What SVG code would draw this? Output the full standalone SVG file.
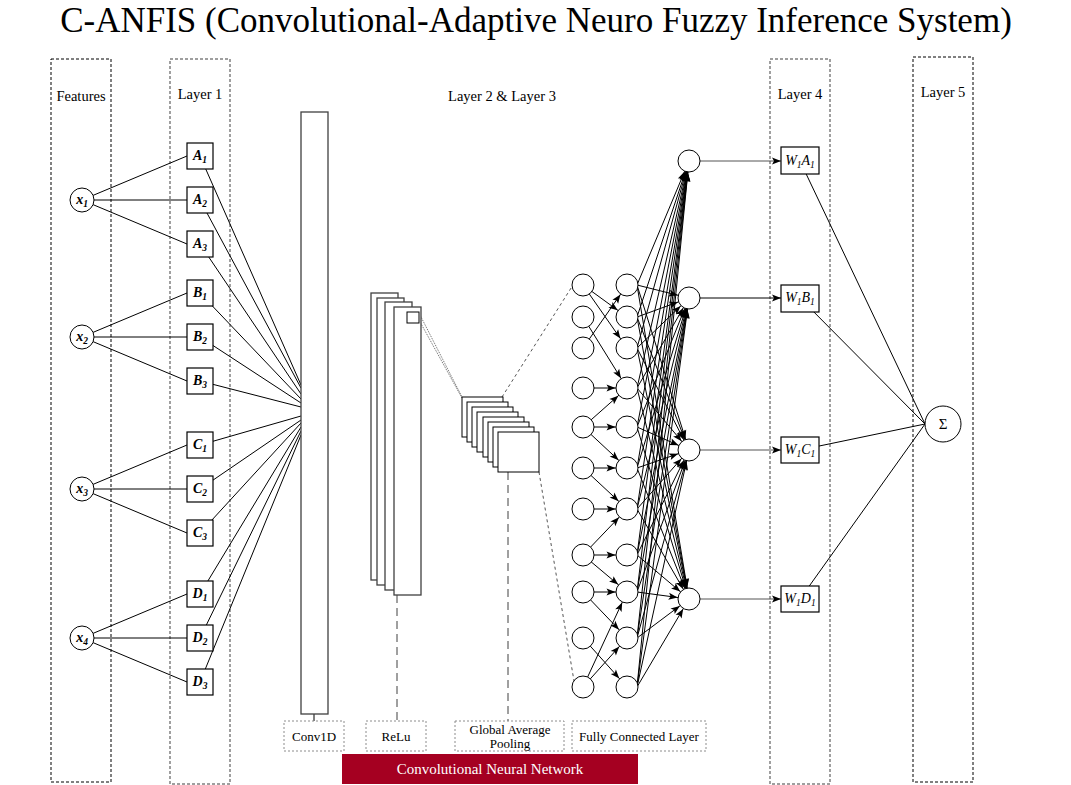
<svg xmlns="http://www.w3.org/2000/svg" width="1071" height="785" viewBox="0 0 1071 785">
<style>
text{font-family:"Liberation Serif","Times New Roman",serif;fill:#000}
.title{font-size:35px;text-anchor:middle}
.hdr{font-size:14.5px;text-anchor:middle}
.lbl{font-size:13px;text-anchor:middle}
.fz{font-size:14px;font-style:italic;font-weight:bold;text-anchor:middle}
.w{font-size:14px;font-style:italic;text-anchor:middle}
.sub{font-size:9.5px}
.lk{fill:none;stroke:#000;stroke-width:1;stroke-dasharray:3 2}
.lg{fill:none;stroke:#808080;stroke-width:1.5;stroke-dasharray:3 2}
.box{fill:#fff;stroke:#000;stroke-width:1.2}
.circ{fill:#fff;stroke:#000;stroke-width:1}
.tag{fill:#fff;stroke:#8c8c8c;stroke-width:1;stroke-dasharray:2 2}
.bar{fill:#fff;stroke:#404040;stroke-width:1.3}
.cn line{stroke:#000;stroke-width:1}
.ar{marker-end:url(#ac)}
</style>
<defs>
<marker id="ac" markerUnits="userSpaceOnUse" markerWidth="30" markerHeight="10" refX="20.5" refY="3.5" orient="auto" overflow="visible"><path d="M0,0 L9,3.5 L0,7 L2,3.5 z" fill="#000"/></marker>
<marker id="a" markerUnits="userSpaceOnUse" markerWidth="10" markerHeight="8" refX="9" refY="3.5" orient="auto" overflow="visible"><path d="M0,0 L9,3.5 L0,7 L2,3.5 z" fill="#000"/></marker>
</defs>
<rect width="1071" height="785" fill="#fff"/>
<text class="title" x="536" y="32">C-ANFIS (Convolutional-Adaptive Neuro Fuzzy Inference System)</text>

<g id="layer-frames">
<g id="frame-features"><rect class="lk" x="51" y="59" width="60" height="723"/><text class="hdr" x="81" y="101">Features</text></g>
<g id="frame-layer1"><rect class="lg" x="170" y="59" width="60" height="725"/><text class="hdr" x="200" y="99">Layer 1</text></g>
<g id="frame-layer23"><text class="hdr" x="502" y="101">Layer 2 &amp; Layer 3</text></g>
<g id="frame-layer4"><rect class="lg" x="770" y="59" width="60" height="725"/><text class="hdr" x="800" y="99">Layer 4</text></g>
<g id="frame-layer5"><rect class="lk" x="913" y="57" width="60" height="725"/><text class="hdr" x="943" y="97">Layer 5</text></g>
</g>

<g id="connectors" class="cn">
<line x1="82" y1="200" x2="187" y2="156"/><line x1="82" y1="200" x2="187" y2="200"/><line x1="82" y1="200" x2="187" y2="244"/>
<line x1="82" y1="337" x2="187" y2="293"/><line x1="82" y1="337" x2="187" y2="337"/><line x1="82" y1="337" x2="187" y2="381"/>
<line x1="82" y1="489" x2="187" y2="445"/><line x1="82" y1="489" x2="187" y2="489"/><line x1="82" y1="489" x2="187" y2="533"/>
<line x1="82" y1="638" x2="187" y2="594"/><line x1="82" y1="638" x2="187" y2="638"/><line x1="82" y1="638" x2="187" y2="682"/>
<line x1="200" y1="156" x2="301" y2="385"/><line x1="200" y1="200" x2="301" y2="388"/><line x1="200" y1="244" x2="301" y2="394"/>
<line x1="200" y1="293" x2="301" y2="399"/><line x1="200" y1="337" x2="301" y2="403"/><line x1="200" y1="381" x2="301" y2="407"/>
<line x1="200" y1="445" x2="301" y2="416"/><line x1="200" y1="489" x2="301" y2="420"/><line x1="200" y1="533" x2="301" y2="423"/>
<line x1="200" y1="594" x2="301" y2="427"/><line x1="200" y1="638" x2="301" y2="431"/><line x1="200" y1="682" x2="301" y2="435"/>
<line x1="314" y1="714" x2="314" y2="721"/>
<line x1="397" y1="595" x2="397" y2="721" style="stroke:#404040;stroke-dasharray:8 5"/>
<line x1="508" y1="472" x2="508" y2="721" style="stroke:#404040;stroke-dasharray:8 5"/>
<line x1="419" y1="313" x2="462" y2="397" style="stroke:#666;stroke-dasharray:1 1"/>
<line x1="419" y1="320" x2="462" y2="398" style="stroke:#666;stroke-dasharray:1 1"/>
<line x1="502" y1="397" x2="573" y2="285" style="stroke:#555;stroke-dasharray:3 3"/>
<line x1="539" y1="472" x2="574" y2="681" style="stroke:#555;stroke-dasharray:3 3"/>
<line class="ar" x1="583" y1="285" x2="627" y2="317"/>
<line class="ar" x1="583" y1="285" x2="627" y2="348"/>
<line class="ar" x1="583" y1="348" x2="627" y2="285"/>
<line class="ar" x1="583" y1="317" x2="627" y2="388"/>
<line class="ar" x1="583" y1="388" x2="627" y2="388"/>
<line class="ar" x1="583" y1="427" x2="627" y2="388"/>
<line class="ar" x1="583" y1="427" x2="627" y2="427"/>
<line class="ar" x1="583" y1="427" x2="627" y2="468"/>
<line class="ar" x1="583" y1="468" x2="627" y2="468"/>
<line class="ar" x1="583" y1="468" x2="627" y2="509"/>
<line class="ar" x1="583" y1="509" x2="627" y2="509"/>
<line class="ar" x1="583" y1="555" x2="627" y2="509"/>
<line class="ar" x1="583" y1="555" x2="627" y2="555"/>
<line class="ar" x1="583" y1="555" x2="627" y2="592"/>
<line class="ar" x1="583" y1="592" x2="627" y2="592"/>
<line class="ar" x1="583" y1="592" x2="627" y2="638"/>
<line class="ar" x1="583" y1="687" x2="627" y2="592"/>
<line class="ar" x1="583" y1="687" x2="627" y2="638"/>
<line class="ar" x1="583" y1="638" x2="627" y2="687"/>
<line class="ar" x1="637" y1="285" x2="689" y2="161"/><line class="ar" x1="637" y1="285" x2="689" y2="298"/><line class="ar" x1="637" y1="285" x2="689" y2="450"/><line class="ar" x1="637" y1="285" x2="689" y2="599"/>
<line class="ar" x1="637" y1="317" x2="689" y2="161"/><line class="ar" x1="637" y1="317" x2="689" y2="298"/><line class="ar" x1="637" y1="317" x2="689" y2="450"/><line class="ar" x1="637" y1="317" x2="689" y2="599"/>
<line class="ar" x1="637" y1="348" x2="689" y2="161"/><line class="ar" x1="637" y1="348" x2="689" y2="298"/><line class="ar" x1="637" y1="348" x2="689" y2="450"/><line class="ar" x1="637" y1="348" x2="689" y2="599"/>
<line class="ar" x1="637" y1="388" x2="689" y2="161"/><line class="ar" x1="637" y1="388" x2="689" y2="298"/><line class="ar" x1="637" y1="388" x2="689" y2="450"/><line class="ar" x1="637" y1="388" x2="689" y2="599"/>
<line class="ar" x1="637" y1="427" x2="689" y2="161"/><line class="ar" x1="637" y1="427" x2="689" y2="298"/><line class="ar" x1="637" y1="427" x2="689" y2="450"/><line class="ar" x1="637" y1="427" x2="689" y2="599"/>
<line class="ar" x1="637" y1="468" x2="689" y2="161"/><line class="ar" x1="637" y1="468" x2="689" y2="298"/><line class="ar" x1="637" y1="468" x2="689" y2="450"/><line class="ar" x1="637" y1="468" x2="689" y2="599"/>
<line class="ar" x1="637" y1="509" x2="689" y2="161"/><line class="ar" x1="637" y1="509" x2="689" y2="298"/><line class="ar" x1="637" y1="509" x2="689" y2="450"/><line class="ar" x1="637" y1="509" x2="689" y2="599"/>
<line class="ar" x1="637" y1="555" x2="689" y2="161"/><line class="ar" x1="637" y1="555" x2="689" y2="298"/><line class="ar" x1="637" y1="555" x2="689" y2="450"/><line class="ar" x1="637" y1="555" x2="689" y2="599"/>
<line class="ar" x1="637" y1="592" x2="689" y2="161"/><line class="ar" x1="637" y1="592" x2="689" y2="298"/><line class="ar" x1="637" y1="592" x2="689" y2="450"/><line class="ar" x1="637" y1="592" x2="689" y2="599"/>
<line class="ar" x1="637" y1="638" x2="689" y2="161"/><line class="ar" x1="637" y1="638" x2="689" y2="298"/><line class="ar" x1="637" y1="638" x2="689" y2="450"/><line class="ar" x1="637" y1="638" x2="689" y2="599"/>
<line class="ar" x1="637" y1="687" x2="689" y2="161"/><line class="ar" x1="637" y1="687" x2="689" y2="298"/><line class="ar" x1="637" y1="687" x2="689" y2="450"/><line class="ar" x1="637" y1="687" x2="689" y2="599"/>
<line x1="700" y1="161" x2="781" y2="161" style="stroke:#555;marker-end:url(#a)"/>
<line x1="700" y1="298" x2="781" y2="298" style="marker-end:url(#a)"/>
<line x1="700" y1="450" x2="781" y2="450" style="stroke:#555;marker-end:url(#a)"/>
<line x1="700" y1="599" x2="781" y2="599" style="stroke:#555;marker-end:url(#a)"/>
<line x1="800" y1="161" x2="925" y2="424"/>
<line x1="800" y1="298" x2="925" y2="424"/>
<line x1="800" y1="450" x2="925" y2="424"/>
<line x1="800" y1="599" x2="925" y2="424"/>
</g>

<g id="features">
<g id="x1"><circle class="circ" cx="82" cy="200" r="12"/><text class="fz" x="82" y="204">x<tspan class="sub" dy="3">1</tspan></text></g>
<g id="x2"><circle class="circ" cx="82" cy="337" r="12"/><text class="fz" x="82" y="341">x<tspan class="sub" dy="3">2</tspan></text></g>
<g id="x3"><circle class="circ" cx="82" cy="489" r="12"/><text class="fz" x="82" y="493">x<tspan class="sub" dy="3">3</tspan></text></g>
<g id="x4"><circle class="circ" cx="82" cy="638" r="12"/><text class="fz" x="82" y="642">x<tspan class="sub" dy="3">4</tspan></text></g>
</g>

<g id="layer1">
<g id="A1"><rect class="box" x="187" y="143" width="26" height="26"/><text class="fz" x="200" y="160">A<tspan class="sub" dy="3">1</tspan></text></g>
<g id="A2"><rect class="box" x="187" y="187" width="26" height="26"/><text class="fz" x="200" y="204">A<tspan class="sub" dy="3">2</tspan></text></g>
<g id="A3"><rect class="box" x="187" y="231" width="26" height="26"/><text class="fz" x="200" y="248">A<tspan class="sub" dy="3">3</tspan></text></g>
<g id="B1"><rect class="box" x="187" y="280" width="26" height="26"/><text class="fz" x="200" y="297">B<tspan class="sub" dy="3">1</tspan></text></g>
<g id="B2"><rect class="box" x="187" y="324" width="26" height="26"/><text class="fz" x="200" y="341">B<tspan class="sub" dy="3">2</tspan></text></g>
<g id="B3"><rect class="box" x="187" y="368" width="26" height="26"/><text class="fz" x="200" y="385">B<tspan class="sub" dy="3">3</tspan></text></g>
<g id="C1"><rect class="box" x="187" y="432" width="26" height="26"/><text class="fz" x="200" y="449">C<tspan class="sub" dy="3">1</tspan></text></g>
<g id="C2"><rect class="box" x="187" y="476" width="26" height="26"/><text class="fz" x="200" y="493">C<tspan class="sub" dy="3">2</tspan></text></g>
<g id="C3"><rect class="box" x="187" y="520" width="26" height="26"/><text class="fz" x="200" y="537">C<tspan class="sub" dy="3">3</tspan></text></g>
<g id="D1"><rect class="box" x="187" y="581" width="26" height="26"/><text class="fz" x="200" y="598">D<tspan class="sub" dy="3">1</tspan></text></g>
<g id="D2"><rect class="box" x="187" y="625" width="26" height="26"/><text class="fz" x="200" y="642">D<tspan class="sub" dy="3">2</tspan></text></g>
<g id="D3"><rect class="box" x="187" y="669" width="26" height="26"/><text class="fz" x="200" y="686">D<tspan class="sub" dy="3">3</tspan></text></g>
</g>

<g id="conv1d"><rect class="bar" x="301" y="112" width="27" height="602"/></g>

<g id="relu-maps">
<rect class="bar" x="371" y="293" width="27" height="287"/>
<rect class="bar" x="377" y="298" width="27" height="287"/>
<rect class="bar" x="385" y="302" width="27" height="288"/>
<rect class="bar" x="394" y="307" width="27" height="288"/>
<rect class="box" x="407" y="312" width="12" height="11" style="stroke-width:1"/>
</g>

<g id="pooling-maps">
<rect class="box" x="462" y="397" width="41" height="40" style="stroke-width:1"/>
<rect class="box" x="467" y="402" width="41" height="40" style="stroke-width:1"/>
<rect class="box" x="472" y="407" width="41" height="40" style="stroke-width:1"/>
<rect class="box" x="477" y="412" width="41" height="40" style="stroke-width:1"/>
<rect class="box" x="483" y="417" width="41" height="40" style="stroke-width:1"/>
<rect class="box" x="488" y="422" width="41" height="40" style="stroke-width:1"/>
<rect class="box" x="493" y="427" width="41" height="40" style="stroke-width:1"/>
<rect class="box" x="498" y="432" width="41" height="40" style="stroke-width:1"/>
</g>

<g id="fc-input">
<circle class="circ" cx="583" cy="285" r="11"/><circle class="circ" cx="583" cy="317" r="11"/><circle class="circ" cx="583" cy="348" r="11"/>
<circle class="circ" cx="583" cy="388" r="11"/><circle class="circ" cx="583" cy="427" r="11"/><circle class="circ" cx="583" cy="468" r="11"/>
<circle class="circ" cx="583" cy="509" r="11"/><circle class="circ" cx="583" cy="555" r="11"/><circle class="circ" cx="583" cy="592" r="11"/>
<circle class="circ" cx="583" cy="638" r="11"/><circle class="circ" cx="583" cy="687" r="11"/>
</g>
<g id="fc-hidden">
<circle class="circ" cx="627" cy="285" r="11"/><circle class="circ" cx="627" cy="317" r="11"/><circle class="circ" cx="627" cy="348" r="11"/>
<circle class="circ" cx="627" cy="388" r="11"/><circle class="circ" cx="627" cy="427" r="11"/><circle class="circ" cx="627" cy="468" r="11"/>
<circle class="circ" cx="627" cy="509" r="11"/><circle class="circ" cx="627" cy="555" r="11"/><circle class="circ" cx="627" cy="592" r="11"/>
<circle class="circ" cx="627" cy="638" r="11"/><circle class="circ" cx="627" cy="687" r="11"/>
</g>
<g id="fc-output">
<circle class="circ" cx="689" cy="161" r="11"/><circle class="circ" cx="689" cy="298" r="11"/>
<circle class="circ" cx="689" cy="450" r="11"/><circle class="circ" cx="689" cy="599" r="11"/>
</g>

<g id="layer4">
<g id="W1A1"><rect class="box" x="781" y="147" width="38" height="27"/><text class="w" x="800" y="165">W<tspan class="sub" dy="3">1</tspan><tspan dy="-3">A</tspan><tspan class="sub" dy="3">1</tspan></text></g>
<g id="W1B1"><rect class="box" x="781" y="285" width="38" height="27"/><text class="w" x="800" y="302">W<tspan class="sub" dy="3">1</tspan><tspan dy="-3">B</tspan><tspan class="sub" dy="3">1</tspan></text></g>
<g id="W1C1"><rect class="box" x="781" y="437" width="38" height="26"/><text class="w" x="800" y="454">W<tspan class="sub" dy="3">1</tspan><tspan dy="-3">C</tspan><tspan class="sub" dy="3">1</tspan></text></g>
<g id="W1D1"><rect class="box" x="781" y="586" width="38" height="26"/><text class="w" x="800" y="603">W<tspan class="sub" dy="3">1</tspan><tspan dy="-3">D</tspan><tspan class="sub" dy="3">1</tspan></text></g>
</g>

<g id="sum"><circle class="circ" cx="943" cy="424" r="18"/><text x="943" y="429" style="font-size:15px;text-anchor:middle">Σ</text></g>

<g id="cnn-labels">
<g id="lbl-conv1d"><rect class="tag" x="284" y="721" width="60" height="30"/><text class="lbl" x="314" y="741">Conv1D</text></g>
<g id="lbl-relu"><rect class="tag" x="366" y="721" width="60" height="30"/><text class="lbl" x="396" y="741">ReLu</text></g>
<g id="lbl-gap"><rect class="tag" x="455" y="721" width="109" height="30"/><text class="lbl" x="510" y="734">Global Average</text><text class="lbl" x="510" y="748">Pooling</text></g>
<g id="lbl-fc"><rect class="tag" x="572" y="721" width="134" height="30"/><text class="lbl" x="639" y="741">Fully Connected Layer</text></g>
<g id="cnn-banner"><rect x="342" y="754" width="296" height="30" fill="#A50021"/><text x="490" y="774" style="font-size:15px;text-anchor:middle;fill:#fff">Convolutional Neural Network</text></g>
</g>
</svg>
